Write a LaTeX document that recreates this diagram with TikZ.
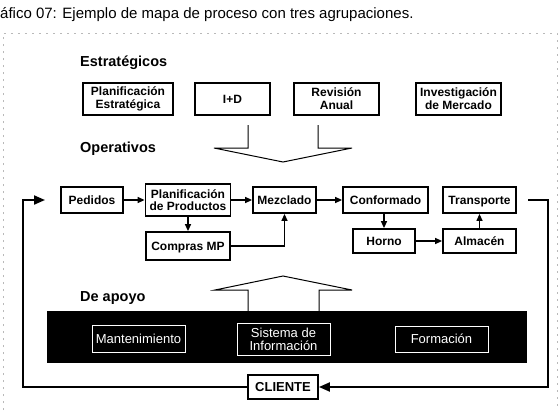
\documentclass[tikz,border=0pt]{standalone}
\usepackage{fontspec}
\setmainfont{Liberation Sans}
\usetikzlibrary{arrows.meta}
\begin{document}
\begin{tikzpicture}[x=1pt,y=-1pt,
  stratbox/.style={draw, line width=1.8pt, inner sep=0pt, align=center,
    minimum height=32pt, font=\bfseries\fontsize{12}{13}\selectfont},
  opbox/.style={draw, line width=1.8pt, inner sep=0pt, align=center,
    minimum height=26pt, font=\bfseries\fontsize{12}{11.5}\selectfont},
  supbox/.style={draw=white, line width=1pt, fill=black, text=white, inner sep=0pt,
    align=center, minimum width=93pt, font=\fontsize{13}{13}\selectfont},
  grouplabel/.style={anchor=west, inner sep=0pt, font=\bfseries\fontsize{14.5}{16}\selectfont},
  conn/.style={line width=1.3pt, -{Triangle[length=7pt,width=6pt]}},
  loopline/.style={line width=2pt, -{Triangle[length=11pt,width=9pt]}},
  bigarrow/.style={line width=1pt},
  frame/.style={gray!55, line width=0.8pt, dash pattern=on 2pt off 5pt}
]
\useasboundingbox (0,0) rectangle (559,410);
\fill[white] (0,0) rectangle (559,410);

% title and frame
\node[anchor=west, inner sep=0pt, font=\fontsize{15}{16}\selectfont] (title) at (0,15)
  {áfico 07: Ejemplo de mapa de proceso con tres agrupaciones.};
\draw[frame] (3,410) -- (3,33) -- (557,33) -- (557,410);

% group labels
\node[grouplabel] (lest) at (80,63) {Estratégicos};
\node[grouplabel] (lope) at (80,149) {Operativos};
\node[grouplabel] (lapo) at (80,298) {De apoyo};

% strategic
\node[stratbox, minimum width=90pt] (pe) at (128,99) {Planificación\\Estratégica};
\node[stratbox, minimum width=75pt] (id) at (232.5,99) {I+D};
\node[stratbox, minimum width=85pt] (ra) at (336.5,99) {Revisión\\Anual};
\node[stratbox, minimum width=85pt] (im) at (458.5,99) {Investigación\\de Mercado};

% big down arrow
\draw[bigarrow] (248,125) -- (248,148) -- (214,148) -- (283,162) -- (352,148) -- (318,148) -- (318,125);

% operative
\node[opbox, minimum width=62pt] (ped) at (92,200) {Pedidos};
\node[opbox, minimum width=85pt, minimum height=32pt] (pp) at (188,200) {Planificación\\de Productos};
\node[opbox, minimum width=63pt] (mez) at (284.5,200) {Mezclado};
\node[opbox, minimum width=85pt] (con) at (385.5,200) {Conformado};
\node[opbox, minimum width=73pt, text depth=0pt] (tra) at (479.5,200) {Transporte};
\node[opbox, minimum width=84pt, minimum height=28pt, text depth=0pt] (com) at (188,246) {Compras MP};
\node[opbox, minimum width=62pt, minimum height=24pt] (hor) at (384,241) {Horno};
\node[opbox, minimum width=73pt, minimum height=24pt] (alm) at (479.5,241) {Almacén};

\draw[conn] (ped) -- (pp);
\draw[conn] (pp) -- (mez);
\draw[conn] (mez) -- (con);
\draw[conn] (pp) -- (com);
\draw[conn] (com.east) -| (mez.south);
\draw[conn] (con.south -| hor.north) -- (hor.north);
\draw[conn] (hor) -- (alm);
\draw[conn] (alm) -- (tra);

% support band
\node[fill=black, minimum width=480pt, minimum height=52pt, inner sep=0pt] (band) at (287,337) {};
\node[supbox, minimum height=27pt] (man) at (138.5,338.5) {Mantenimiento};
\node[supbox, minimum height=32pt] (sis) at (283.5,339) {Sistema de\\Información};
\node[supbox, minimum height=26pt] (for) at (441.5,339) {Formación};

% big up arrow
\draw[bigarrow] (248,311) -- (248,290) -- (215,290) -- (283,276) -- (352,290) -- (319,290) -- (319,311);

% client loop
\node[draw, line width=1.8pt, minimum width=70pt, minimum height=24pt, inner sep=0pt,
  font=\bfseries\fontsize{13}{13}\selectfont] (cli) at (283,387) {CLIENTE};
\coordinate (ls) at (528,200);
\coordinate (rc) at (548,387);
\coordinate (lc) at (23,387);
\coordinate (le) at (45,200);
\draw[loopline] (ls) -| (rc) -- (cli.east);
\draw[loopline] (cli.west) -- (lc) |- (le);
\end{tikzpicture}
\end{document}
